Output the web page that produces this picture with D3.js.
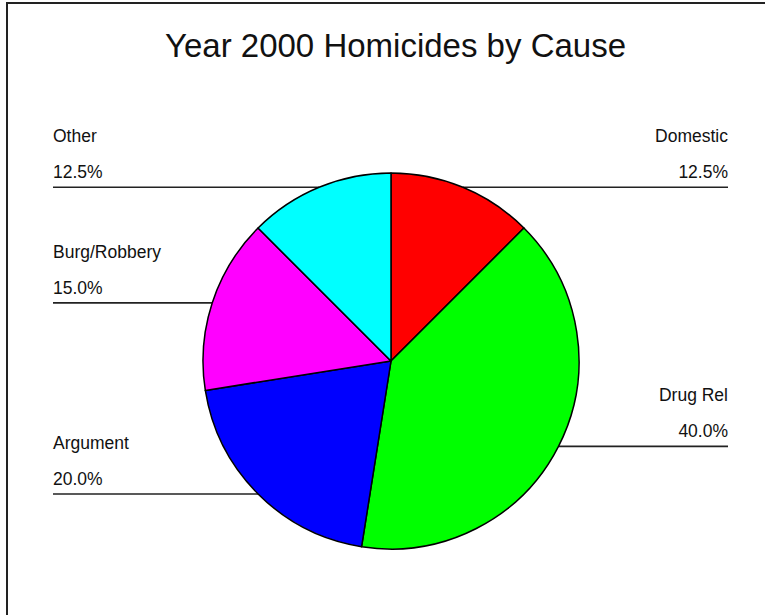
<!DOCTYPE html>
<html>
<head>
<meta charset="utf-8">
<script src="https://cdn.jsdelivr.net/npm/d3@7"></script>
<style>
  body { margin: 0; background: #fff; }
  text { font-family: "Liberation Sans", Arial, sans-serif; fill: #111; }
</style>
</head>
<body>
<div id="chart"></div>
<script>
// chart data
var causes = ["Domestic", "Drug Rel", "Argument", "Burg/Robbery", "Other"];
var shares = [12.5, 40.0, 20.0, 15.0, 12.5];
var sliceColors = ["#ff0000", "#00ff00", "#0000ff", "#ff00ff", "#00ffff"];

var svgWidth = 765;
var svgHeight = 615;

var svg = d3.select("#chart")
  .append("svg")
  .attr("width", svgWidth)
  .attr("height", svgHeight);

// frame (right and bottom edges fall outside the picture)
svg.append("rect")
  .attr("x", 7)
  .attr("y", 3)
  .attr("width", 900)
  .attr("height", 800)
  .attr("fill", "none")
  .attr("stroke", "#222")
  .attr("stroke-width", 2);

svg.append("text")
  .attr("x", 395.5)
  .attr("y", 57)
  .attr("text-anchor", "middle")
  .style("font-size", "33px")
  .text("Year 2000 Homicides by Cause");

var cx = 391, cy = 361, radius = 188;
var leftX = 53, rightX = 728;

var pie = d3.pie().sort(null).value(d => d.value);
var arcs = pie(causes.map((c, i) => ({ name: c, value: shares[i], color: sliceColors[i] })));

var arc = d3.arc().innerRadius(0).outerRadius(radius);

var chartGroup = svg.append("g")
  .attr("transform", `translate(${cx}, ${cy})`);

// label leader lines go under the pie
var labelGroup = svg.append("g");
chartGroup.raise();

arcs.forEach(function(d) {
  var mid = (d.startAngle + d.endAngle) / 2;
  var px = cx + radius * Math.sin(mid);
  var py = cy - radius * Math.cos(mid);
  var onRight = Math.sin(mid) > 0;
  var tx = onRight ? rightX : leftX;
  var anchor = onRight ? "end" : "start";

  labelGroup.append("line")
    .attr("x1", tx)
    .attr("x2", px)
    .attr("y1", py)
    .attr("y2", py)
    .attr("stroke", "#222")
    .attr("stroke-width", 1.6);

  labelGroup.append("text")
    .attr("x", tx)
    .attr("y", py - 45)
    .attr("text-anchor", anchor)
    .style("font-size", "17.5px")
    .text(d.data.name);

  labelGroup.append("text")
    .attr("x", tx)
    .attr("y", py - 9)
    .attr("text-anchor", anchor)
    .style("font-size", "17.5px")
    .text(d.data.value.toFixed(1) + "%");
});

chartGroup.selectAll("path")
  .data(arcs)
  .enter()
  .append("path")
  .attr("d", arc)
  .attr("fill", d => d.data.color)
  .attr("stroke", "#000")
  .attr("stroke-width", 1.5)
  .attr("stroke-linejoin", "round");
</script>
</body>
</html>
